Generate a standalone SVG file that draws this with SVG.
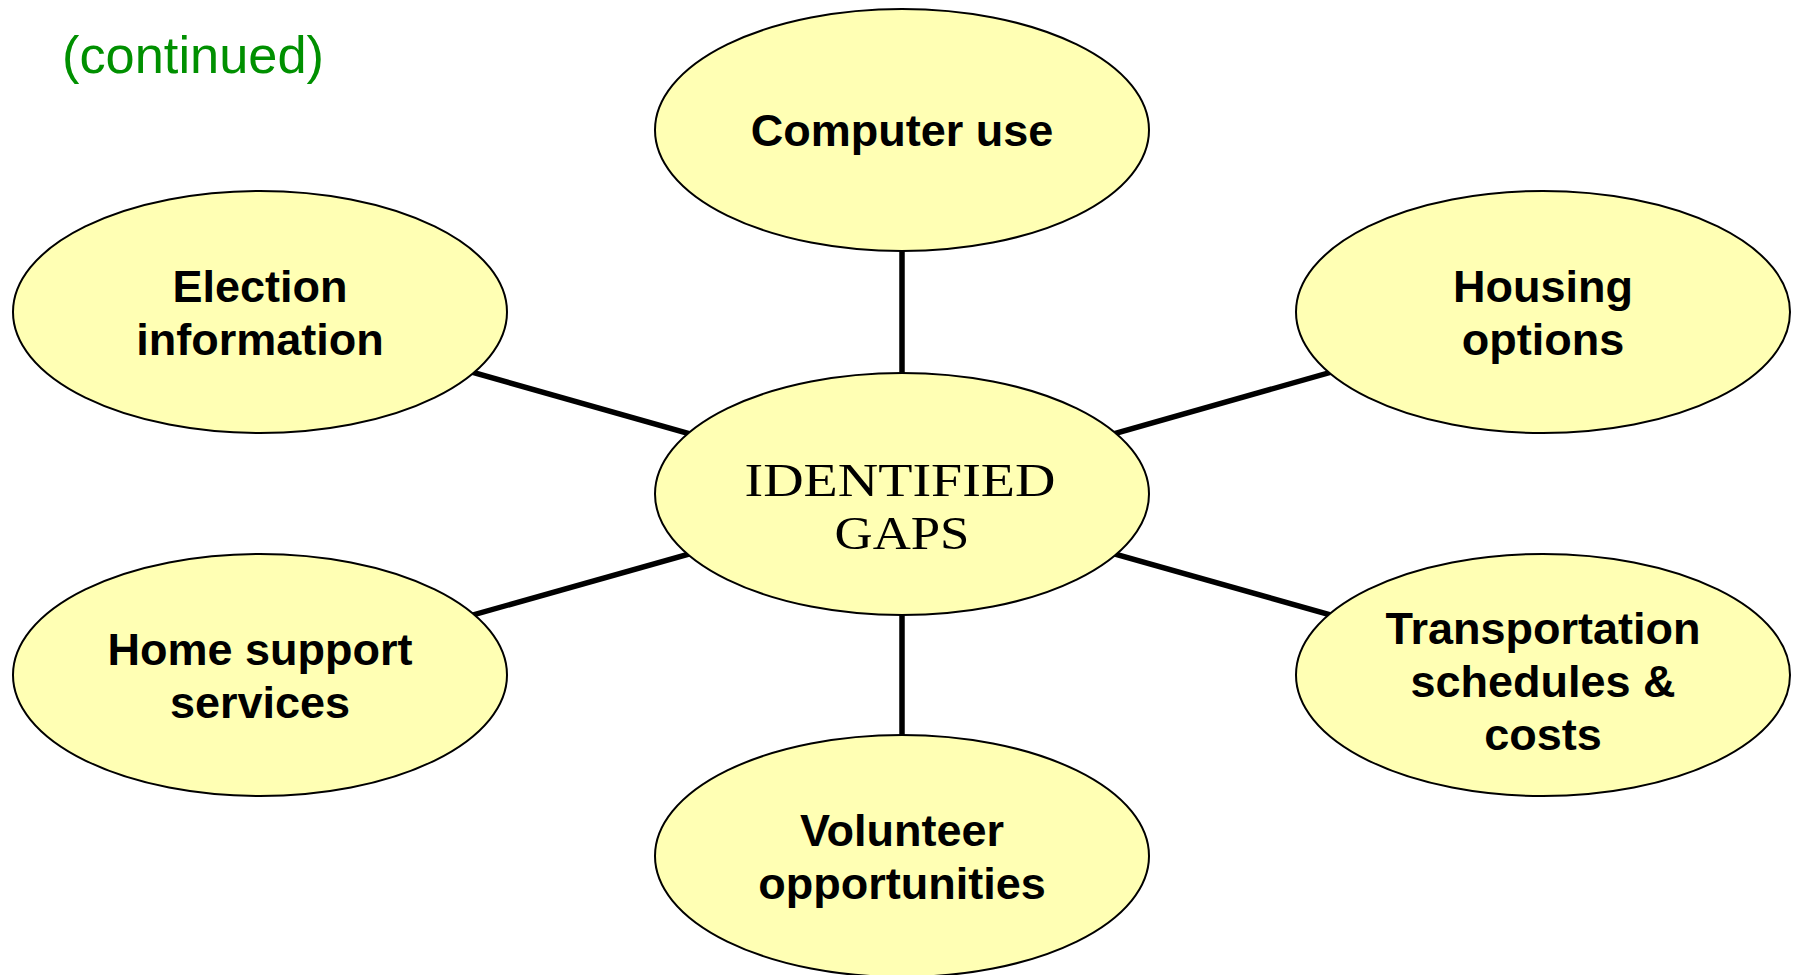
<svg xmlns="http://www.w3.org/2000/svg" width="1799" height="975" viewBox="0 0 1799 975">
<style>
.bg{fill:#ffffff}
.node ellipse{fill:#ffffb4;stroke:#000;stroke-width:2}
.lbl{font-family:"Liberation Sans",Arial,sans-serif;font-weight:bold;font-size:45px;fill:#000;text-anchor:middle}
.hub{font-family:"Liberation Serif","Times New Roman",serif;font-size:47px;fill:#000;text-anchor:middle}
.conn line{stroke:#000;stroke-width:5.5}
.title{font-family:"Liberation Sans",Arial,sans-serif;font-size:52px;fill:#009000}
</style>
<rect class="bg" x="0" y="0" width="1799" height="975"/>
<text class="title" x="62" y="73" textLength="262" lengthAdjust="spacingAndGlyphs">(continued)</text>
<g id="connectors" class="conn">
<line x1="902" y1="494" x2="902" y2="130"/>
<line x1="902" y1="494" x2="902" y2="856"/>
<line x1="902" y1="494" x2="260" y2="312"/>
<line x1="902" y1="494" x2="1543" y2="312"/>
<line x1="902" y1="494" x2="260" y2="675"/>
<line x1="902" y1="494" x2="1543" y2="675"/>
</g>
<g id="node-computer" class="node">
<ellipse cx="902" cy="130" rx="247" ry="121"/>
<text class="lbl" x="902" y="146">Computer use</text>
</g>
<g id="node-election" class="node">
<ellipse cx="260" cy="312" rx="247" ry="121"/>
<text class="lbl" x="260" y="302">Election</text>
<text class="lbl" x="260" y="355">information</text>
</g>
<g id="node-housing" class="node">
<ellipse cx="1543" cy="312" rx="247" ry="121"/>
<text class="lbl" x="1543" y="302">Housing</text>
<text class="lbl" x="1543" y="355">options</text>
</g>
<g id="node-center" class="node">
<ellipse cx="902" cy="494" rx="247" ry="121"/>
<text class="hub" x="900" y="496" textLength="311" lengthAdjust="spacingAndGlyphs">IDENTIFIED</text>
<text class="hub" x="902" y="549" textLength="135" lengthAdjust="spacingAndGlyphs">GAPS</text>
</g>
<g id="node-home" class="node">
<ellipse cx="260" cy="675" rx="247" ry="121"/>
<text class="lbl" x="260" y="665">Home support</text>
<text class="lbl" x="260" y="718">services</text>
</g>
<g id="node-transport" class="node">
<ellipse cx="1543" cy="675" rx="247" ry="121"/>
<text class="lbl" x="1543" y="644">Transportation</text>
<text class="lbl" x="1543" y="697">schedules &amp;</text>
<text class="lbl" x="1543" y="750">costs</text>
</g>
<g id="node-volunteer" class="node">
<ellipse cx="902" cy="856" rx="247" ry="121"/>
<text class="lbl" x="902" y="846">Volunteer</text>
<text class="lbl" x="902" y="899">opportunities</text>
</g>
</svg>
